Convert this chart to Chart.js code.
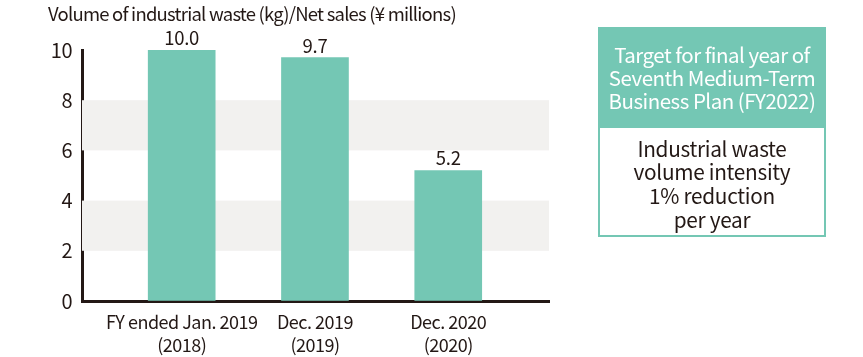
<!DOCTYPE html>
<html>
<head>
<meta charset="utf-8">
<script src="https://cdn.jsdelivr.net/npm/chart.js@4"></script>
<style>
  html, body { margin: 0; padding: 0; background: #fff; }
  #wrap { position: relative; width: 863px; height: 357px; overflow: hidden; }
  canvas { position: absolute; left: 0; top: 0; }
  #box { position: absolute; left: 598px; top: 27px; width: 228px; height: 210px; box-sizing: border-box;
         font-family: "Noto Sans CJK JP", "Noto Sans", sans-serif; text-align: center; }
  #boxHead { background: #74c7b4; color: #fff; height: 101px; font-size: 20.5px; line-height: 23px;
             display: flex; align-items: center; justify-content: center; letter-spacing: -0.5px; }
  #boxBody { border: 2px solid #74c7b4; border-top: none; height: 109px; box-sizing: border-box; color: #231815;
             font-size: 20.8px; line-height: 23.7px; display: flex; align-items: center; justify-content: center; padding-top: 5px; letter-spacing: -0.3px; }
</style>
</head>
<body>
<div id="wrap">
  <canvas id="c" width="863" height="357"></canvas>
  <div id="box">
    <div id="boxHead"><div>Target for final year of<br>Seventh Medium-Term<br>Business Plan (FY2022)</div></div>
    <div id="boxBody"><div>Industrial waste<br>volume intensity<br>1% reduction<br>per year</div></div>
  </div>
</div>
<script>
const title = "Volume of industrial waste (kg)/Net sales (¥ millions)";
const categories = [["FY ended Jan. 2019", "(2018)"], ["Dec. 2019", "(2019)"], ["Dec. 2020", "(2020)"]];
const values = [10.0, 9.7, 5.2];
const yTicks = [0, 2, 4, 6, 8, 10];
const shadedBands = [[6, 8], [2, 4]];

const FONT = '"Noto Sans CJK JP", "Noto Sans", sans-serif';
const TEXT = '#231815';
const TEAL = '#74c7b4';

const spacingPlugin = {
  id: 'spacing',
  beforeDraw(chart) { chart.ctx.letterSpacing = '-0.5px'; }
};

const bandPlugin = {
  id: 'bands',
  beforeDatasetsDraw(chart) {
    const { ctx, chartArea, scales } = chart;
    ctx.save();
    ctx.fillStyle = '#f2f1ef';
    shadedBands.forEach(([lo, hi]) => {
      const y1 = scales.y.getPixelForValue(hi);
      const y2 = scales.y.getPixelForValue(lo);
      ctx.fillRect(chartArea.left, y1, chartArea.right - chartArea.left, y2 - y1);
    });
    ctx.restore();
  }
};

const labelPlugin = {
  id: 'valueLabels',
  afterDatasetsDraw(chart) {
    const { ctx } = chart;
    const meta = chart.getDatasetMeta(0);
    ctx.save();
    ctx.font = '18.5px ' + FONT;
    ctx.letterSpacing = '-0.3px';
    ctx.fillStyle = TEXT;
    ctx.textAlign = 'center';
    ctx.textBaseline = 'alphabetic';
    meta.data.forEach((bar, i) => {
      ctx.fillText(values[i].toFixed(1), bar.x, bar.y - 5);
    });
    ctx.restore();
  }
};

const titlePlugin = {
  id: 'topTitle',
  afterDraw(chart) {
    const { ctx } = chart;
    ctx.save();
    ctx.font = '18.5px ' + FONT;
    ctx.letterSpacing = '-0.78px';
    ctx.fillStyle = TEXT;
    ctx.textAlign = 'left';
    ctx.textBaseline = 'alphabetic';
    ctx.fillText(title, 48, 21);
    ctx.restore();
  }
};

new Chart(document.getElementById('c'), {
  type: 'bar',
  data: {
    datasets: [{
      data: values.map((v, i) => ({ x: i, y: v })),
      backgroundColor: TEAL,
      barThickness: 67
    }]
  },
  options: {
    responsive: false,
    animation: false,
    events: [],
    layout: { padding: { left: 0, top: 50, right: 863 - 549, bottom: 0 } },
    plugins: { legend: { display: false }, tooltip: { enabled: false }, title: { display: false } },
    scales: {
      x: {
        type: 'linear',
        offset: false,
        min: -0.748,
        max: 2.756,
        afterFit(s) { s.height = 357 - 301; },
        afterBuildTicks(s) { s.ticks = categories.map((c, i) => ({ value: i })); },
        ticks: {
          autoSkip: false,
          maxRotation: 0,
          padding: 9,
          color: TEXT,
          font: { family: FONT, size: 18, lineHeight: 1.3 },
          callback: (v) => categories[v]
        },
        grid: { display: true, color: 'rgba(0,0,0,0)', drawTicks: false, offset: false },
        border: { display: true, color: TEXT, width: 3 }
      },
      y: {
        min: 0,
        max: 10,
        afterFit(s) { s.width = 82; },
        afterBuildTicks(s) { s.ticks = yTicks.map(v => ({ value: v })); },
        ticks: {
          padding: 10,
          color: TEXT,
          font: { family: FONT, size: 20 }
        },
        grid: { display: true, color: 'rgba(0,0,0,0)', drawTicks: false },
        border: { display: true, color: TEXT, width: 3 }
      }
    }
  },
  plugins: [spacingPlugin, bandPlugin, labelPlugin, titlePlugin]
});
</script>
</body>
</html>
